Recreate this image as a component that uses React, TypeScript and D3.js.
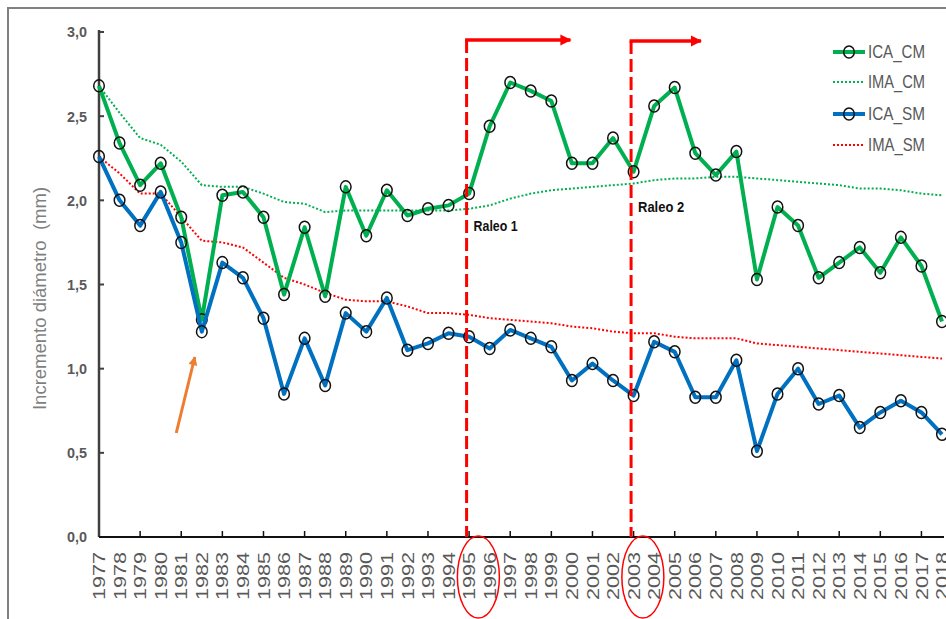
import React from "react";
import * as d3 from "d3";

// Annual diameter increment (ICA) and mean annual increment (IMA), with and without management
const years: string[] = d3.range(1977, 2019).map(String);

const icaCM: number[] = [
  2.68, 2.34, 2.09, 2.22, 1.90, 1.29, 2.03, 2.05, 1.90, 1.44,
  1.84, 1.43, 2.08, 1.79, 2.06, 1.91, 1.95, 1.97, 2.04, 2.44,
  2.70, 2.65, 2.59, 2.22, 2.22, 2.37, 2.17, 2.56, 2.67, 2.28,
  2.15, 2.29, 1.53, 1.96, 1.85, 1.54, 1.63, 1.72, 1.57, 1.78,
  1.61, 1.28,
];

const imaCM: number[] = [
  2.68, 2.52, 2.37, 2.33, 2.23, 2.09, 2.08, 2.08, 2.04, 1.99,
  1.98, 1.93, 1.94, 1.94, 1.94, 1.94, 1.94, 1.94, 1.95, 1.97,
  2.01, 2.04, 2.06, 2.07, 2.08, 2.09, 2.10, 2.12, 2.13, 2.13,
  2.14, 2.14, 2.13, 2.12, 2.11, 2.10, 2.09, 2.07, 2.07, 2.06,
  2.04, 2.03,
];

const icaSM: number[] = [
  2.26, 2.00, 1.85, 2.05, 1.75, 1.22, 1.63, 1.54, 1.30, 0.85,
  1.18, 0.90, 1.33, 1.22, 1.42, 1.11, 1.15, 1.21, 1.19, 1.12,
  1.23, 1.18, 1.13, 0.93, 1.03, 0.93, 0.84, 1.16, 1.10, 0.83,
  0.83, 1.05, 0.51, 0.85, 1.00, 0.79, 0.84, 0.65, 0.74, 0.81,
  0.74, 0.61,
];

const imaSM: number[] = [
  2.26, 2.16, 2.04, 2.04, 1.90, 1.76, 1.75, 1.72, 1.63, 1.54,
  1.50, 1.45, 1.41, 1.40, 1.40, 1.37, 1.33, 1.33, 1.32, 1.30,
  1.29, 1.28, 1.27, 1.25, 1.24, 1.22, 1.21, 1.21, 1.19, 1.18,
  1.18, 1.18, 1.15, 1.14, 1.13, 1.12, 1.11, 1.10, 1.09, 1.08,
  1.07, 1.06,
];

const yTicks: number[] = [0, 0.5, 1, 1.5, 2, 2.5, 3];
const thinningYears: string[] = ["1995", "2003"];
const thinningLabels: string[] = ["Raleo 1", "Raleo 2"];

const GREEN = "#00b050";
const BLUE = "#0070c0";
const RED = "#ff0000";

type Series = { name: string; values: number[]; color: string; solid: boolean };
const series: Series[] = [
  { name: "ICA_CM", values: icaCM, color: GREEN, solid: true },
  { name: "IMA_CM", values: imaCM, color: GREEN, solid: false },
  { name: "ICA_SM", values: icaSM, color: BLUE, solid: true },
  { name: "IMA_SM", values: imaSM, color: RED, solid: false },
];

export default function App() {
  const W = 946;
  const H = 619;
  const x = d3.scalePoint<string>().domain(years).range([99, 942]);
  const y = d3.scaleLinear().domain([0, 3]).range([537, 32]);
  const fmt = (v: number) => v.toFixed(1).replace(".", ",");

  const line = (vals: number[]) =>
    d3
      .line<number>()
      .x((_, i) => x(years[i]) as number)
      .y((d) => y(d))(vals) as string;

  const legendY = [52, 82, 114, 145];
  const step = x.step();

  return (
    <svg
      width={W}
      height={H}
      style={{ position: "absolute", left: 0, top: 0, background: "#fff", fontFamily: "Arial, 'Liberation Sans', sans-serif" }}
    >
      <defs>
        <marker id="redHead" viewBox="0 0 10 10" refX="9" refY="5" markerWidth="3.2" markerHeight="3.6" orient="auto" markerUnits="strokeWidth">
          <path d="M0,0 L10,5 L0,10 z" fill={RED} />
        </marker>
        <marker id="orangeHead" viewBox="0 0 10 10" refX="9" refY="5" markerWidth="3.4" markerHeight="3" orient="auto" markerUnits="strokeWidth">
          <path d="M0,0 L10,5 L0,10 z" fill="#ed7d31" />
        </marker>
      </defs>

      <rect x={8} y={8} width={W + 20} height={H + 20} fill="#fff" stroke="#808080" strokeWidth={2} />

      {/* Y axis */}
      <line x1={99} x2={99} y1={y(3) - 2} y2={y(0)} stroke="#404040" strokeWidth={2.5} />
      {yTicks.map((t) => (
        <g key={t}>
          <line x1={99} x2={104} y1={y(t)} y2={y(t)} stroke="#404040" strokeWidth={2} />
          <text
            x={87}
            y={y(t)}
            dy="0.36em"
            textAnchor="end"
            fontSize={15}
            fontWeight="bold"
            fill="#595959"
            textLength={20}
            lengthAdjust="spacingAndGlyphs"
          >
            {fmt(t)}
          </text>
        </g>
      ))}
      <text
        transform={`translate(40,${(y(0) + y(3)) / 2 + 14}) rotate(-90)`}
        textAnchor="middle"
        dy="0.35em"
        fontSize={18.5}
        fill="#7f7f7f"
        style={{ whiteSpace: "pre" }}
      >
        {"Incremento diámetro  (mm)"}
      </text>

      {/* X axis */}
      <line x1={99} x2={944} y1={y(0)} y2={y(0)} stroke="#111" strokeWidth={2} />
      {years.map((yr, i) =>
        i % 2 === 0 && i > 0 ? (
          <line key={"t" + yr} x1={x(yr)} x2={x(yr)} y1={y(0)} y2={y(0) - 6} stroke="#111" strokeWidth={1.5} />
        ) : null
      )}
      {years.map((yr) => (
        <text
          key={"l" + yr}
          transform={`translate(${x(yr)},552) rotate(-90)`}
          textAnchor="end"
          dy="0.36em"
          fontSize={17}
          fill="#595959"
          textLength={48}
          lengthAdjust="spacingAndGlyphs"
        >
          {yr}
        </text>
      ))}

      {/* Series */}
      {series
        .filter((s) => !s.solid)
        .map((s) => (
          <path key={s.name} d={line(s.values)} fill="none" stroke={s.color} strokeWidth={2} strokeDasharray="2,2" />
        ))}
      {series
        .filter((s) => s.solid)
        .map((s) => (
          <g key={s.name}>
            <path d={line(s.values)} fill="none" stroke={s.color} strokeWidth={4} strokeLinejoin="round" />
            {s.values.map((v, i) => (
              <ellipse
                key={i}
                cx={x(years[i])}
                cy={y(v)}
                rx={5.3}
                ry={6}
                fill="none"
                stroke="#111"
                strokeWidth={1.5}
              />
            ))}
          </g>
        ))}

      {/* Thinning markers */}
      {thinningYears.map((yr, k) => {
        const lx = (x(yr) as number) - 2.5;
        const top = 40 + k;
        const next = years[years.indexOf(yr) + 1];
        const cx = ((x(yr) as number) + (x(next) as number)) / 2 - 1;
        return (
          <g key={yr}>
            <line x1={lx} x2={lx} y1={top} y2={y(0)} stroke={RED} strokeWidth={3} strokeDasharray="13,5" />
            <line
              x1={lx - 1.5}
              x2={lx + step * (k === 0 ? 5.05 : 3.4)}
              y1={top}
              y2={top}
              stroke={RED}
              strokeWidth={3.5}
              markerEnd="url(#redHead)"
            />
            <text
              x={lx + (k === 0 ? 7 : 7)}
              y={k === 0 ? 231 : 212}
              fontSize={15}
              fontWeight="bold"
              fill="#111"
              textLength={k === 0 ? 44 : 46}
              lengthAdjust="spacingAndGlyphs"
            >
              {thinningLabels[k]}
            </text>
            <ellipse cx={cx} cy={577} rx={21} ry={41} fill="none" stroke={RED} strokeWidth={1.5} />
          </g>
        );
      })}

      {/* Pointer to the 1982 drop */}
      <line
        x1={(x("1981") as number) - 5}
        y1={433}
        x2={(x("1982") as number) - 7}
        y2={357}
        stroke="#ed7d31"
        strokeWidth={3}
        markerEnd="url(#orangeHead)"
      />

      {/* Legend */}
      {series.map((s, i) => (
        <g key={"lg" + s.name}>
          {s.solid ? (
            <>
              <line x1={833} x2={865} y1={legendY[i]} y2={legendY[i]} stroke={s.color} strokeWidth={4} />
              <ellipse cx={849} cy={legendY[i]} rx={5.3} ry={6} fill="none" stroke="#111" strokeWidth={1.5} />
            </>
          ) : (
            <line x1={833} x2={865} y1={legendY[i]} y2={legendY[i]} stroke={s.color} strokeWidth={2} strokeDasharray="2,2" />
          )}
          <text
            x={868}
            y={legendY[i]}
            dy="0.36em"
            fontSize={18}
            fill="#595959"
            textLength={57}
            lengthAdjust="spacingAndGlyphs"
          >
            {s.name}
          </text>
        </g>
      ))}
    </svg>
  );
}
